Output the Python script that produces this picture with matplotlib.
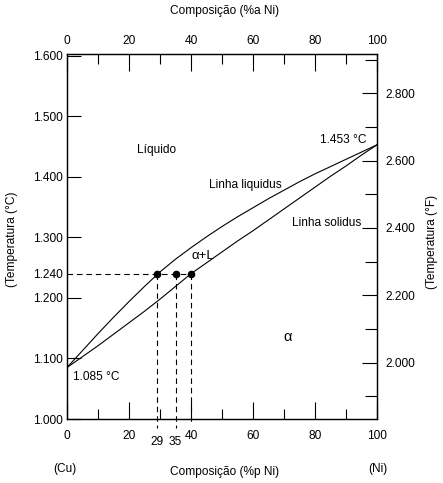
import matplotlib
matplotlib.use('Agg')
import matplotlib.pyplot as plt
from matplotlib.ticker import FixedLocator, FuncFormatter

plt.rcParams['font.family'] = ['Liberation Sans', 'DejaVu Sans']

# dados (diagrama Cu-Ni), %p Ni
wt_ni = [0, 5, 10, 15, 20, 25, 30, 35, 40, 45, 50,
         55, 60, 65, 70, 75, 80, 85, 90, 95, 100]
liquidus = [1085, 1113, 1141, 1168, 1194, 1219, 1243, 1264, 1283, 1301, 1318,
            1334, 1349, 1364, 1378, 1392, 1405, 1417, 1429, 1441, 1453]
solidus = [1085, 1103, 1121, 1140, 1159, 1178, 1198, 1219, 1240, 1258, 1276,
           1294, 1311, 1329, 1347, 1365, 1383, 1401, 1418, 1436, 1453]

t_ref = 1240
pts_x = [29, 35, 40]
pts_y = [1240, 1240, 1240]
pts_fim = [985, 985, 995]   # onde terminam as linhas tracejadas

c_ticks = [1000, 1100, 1200, 1300, 1400, 1500, 1600]
f_major = [2000, 2200, 2400, 2600, 2800]
f_minor = [1900, 2100, 2300, 2500, 2700, 2900]
x_major = [0, 20, 40, 60, 80, 100]
x_minor = [10, 30, 50, 70, 90]

W, H = 443, 483
fs = 8.6
fig = plt.figure(figsize=(W / 100, H / 100), dpi=100)
L, R, T, B = 67, 377, 54, 419
ax = fig.add_axes([L / W, 1 - B / H, (R - L) / W, (B - T) / H])

def milhar(v, pos=None):
    s = '%d' % v
    return s[:-3] + '.' + s[-3:]

# converte pixel da figura original -> coordenadas de dados
def px(x, y):
    return (x - L) / (R - L) * 100, 1000 + (B - y) / (B - T) * 603

ax.plot(wt_ni, liquidus, color='k', lw=0.8)
ax.plot(wt_ni, solidus, color='k', lw=0.8)

dash = (0, (5, 3.5))
ax.plot([0, pts_x[-1]], [t_ref, t_ref], color='k', lw=0.8, linestyle=dash)
for x, y, fim in zip(pts_x, pts_y, pts_fim):
    ax.plot([x, x], [y, fim], color='k', lw=0.8, linestyle=dash, clip_on=False)
ax.plot(pts_x, pts_y, 'o', color='k', markersize=4.5)

ax.set_xlim(0, 100)
ax.set_ylim(1000, 1603)

ax.xaxis.set_major_locator(FixedLocator(x_major))
ax.xaxis.set_minor_locator(FixedLocator(x_minor))
ax.yaxis.set_major_locator(FixedLocator(c_ticks))
ax.yaxis.set_minor_locator(FixedLocator([t_ref]))
ax.yaxis.set_major_formatter(FuncFormatter(milhar))
ax.yaxis.set_minor_formatter(FuncFormatter(milhar))
ax.tick_params(axis='x', which='major', direction='in', length=12, width=0.8, pad=8, labelsize=fs)
ax.tick_params(axis='x', which='minor', direction='in', length=7.5, width=0.8)
ax.tick_params(axis='y', which='major', direction='in', length=10, width=0.8, pad=3, labelsize=fs)
ax.tick_params(axis='y', which='minor', direction='in', length=0, pad=3, labelsize=fs)
for s in ax.spines.values():
    s.set_linewidth(0.9)

# eixo superior (%a Ni)
axt = ax.twiny()
axt.set_xlim(0, 100)
axt.xaxis.set_major_locator(FixedLocator(x_major))
axt.xaxis.set_minor_locator(FixedLocator(x_minor))
axt.tick_params(axis='x', which='major', direction='in', length=12, width=0.8, pad=5, labelsize=fs)
axt.tick_params(axis='x', which='minor', direction='in', length=7.5, width=0.8)

# eixo direito (°F)
axr = ax.twinx()
axr.set_ylim(1000 * 9 / 5 + 32, 1603 * 9 / 5 + 32)
axr.yaxis.set_major_locator(FixedLocator(f_major))
axr.yaxis.set_minor_locator(FixedLocator(f_minor))
axr.yaxis.set_major_formatter(FuncFormatter(milhar))
axr.tick_params(axis='y', which='major', direction='in', length=11, width=0.8, pad=6, labelsize=fs)
axr.tick_params(axis='y', which='minor', direction='in', length=8.5, width=0.8)

# textos dentro do grafico
ax.text(*px(157, 150), 'Líquido', ha='center', va='center', fontsize=fs)
ax.text(*px(245, 185), 'Linha liquidus', ha='center', va='center', fontsize=fs)
ax.text(*px(327, 223), 'Linha solidus', ha='center', va='center', fontsize=fs)
ax.text(*px(366, 140), '1.453 °C', ha='right', va='center', fontsize=fs)
ax.text(*px(96, 377), '1.085 °C', ha='center', va='center', fontsize=fs)
ax.text(*px(203, 256), 'α+L', ha='center', va='center', fontsize=9.5)
ax.text(*px(288, 337), 'α', ha='center', va='center', fontsize=10.5)

for x in pts_x[:2]:
    ax.text(x, px(0, 442)[1], str(x), ha='center', va='center', fontsize=fs)

fig.text(225 / W, 1 - 11 / H, 'Composição (%a Ni)', ha='center', va='center', fontsize=fs)
fig.text(225 / W, 1 - 472 / H, 'Composição (%p Ni)', ha='center', va='center', fontsize=fs)
fig.text(65 / W, 1 - 469 / H, '(Cu)', ha='center', va='center', fontsize=fs)
fig.text(378 / W, 1 - 469 / H, '(Ni)', ha='center', va='center', fontsize=fs)
fig.text(12 / W, 1 - 239 / H, '(Temperatura (°C)', rotation=90, ha='center', va='center', fontsize=8.6)
fig.text(432 / W, 1 - 242 / H, '(Temperatura (°F)', rotation=90, ha='center', va='center', fontsize=8.6)

fig.savefig('out.png', dpi=100)
